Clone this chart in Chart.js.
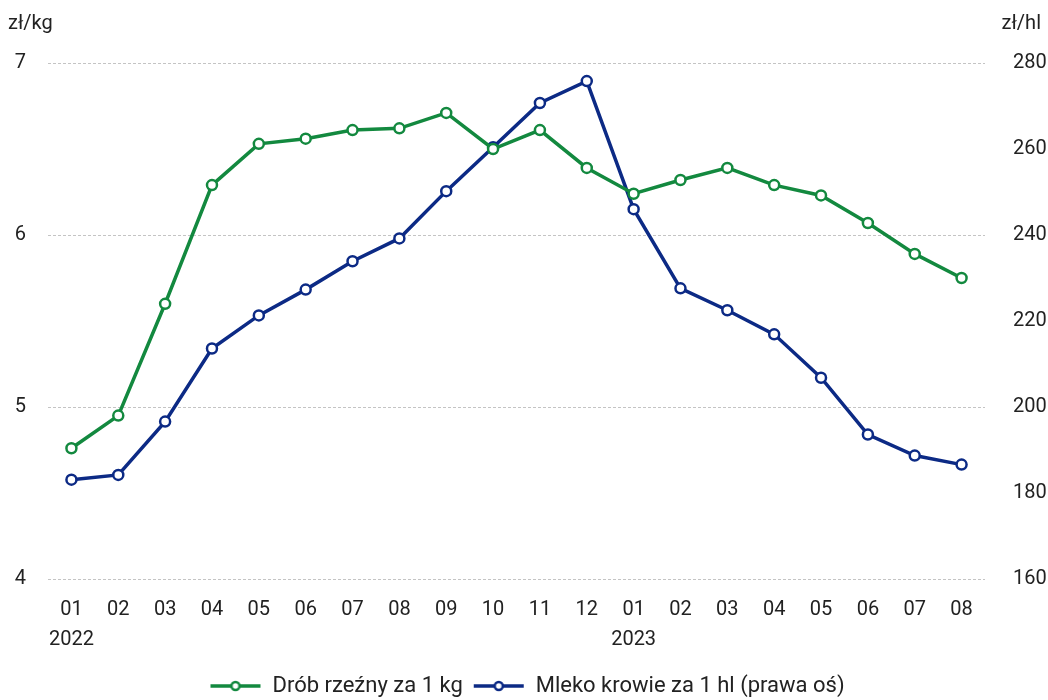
<!DOCTYPE html>
<html><head><meta charset="utf-8">
<script src="https://cdn.jsdelivr.net/npm/chart.js@4"></script>
<style>html,body{margin:0;padding:0;background:#fff}#wrap{width:1048px;height:700px}</style>
</head><body><div id="wrap"><canvas id="c" width="1048" height="700"></canvas></div>
<script>
const months = ["01","02","03","04","05","06","07","08","09","10","11","12","01","02","03","04","05","06","07","08"];
const years = {0:"2022", 12:"2023"};
const drob = [4.76,4.95,5.60,6.29,6.53,6.56,6.61,6.62,6.71,6.50,6.61,6.39,6.24,6.32,6.39,6.29,6.23,6.07,5.89,5.75];
const mleko = [183.1,184.2,196.6,213.6,221.3,227.3,233.9,239.2,250.2,260.4,270.7,275.8,246.0,227.6,222.5,216.9,206.8,193.6,188.7,186.6];
const leftTicks = [4,5,6,7];
const rightTicks = [160,180,200,220,240,260,280];
const labelLeft = "zł/kg", labelRight = "zł/hl";
const nameDrob = "Drób rzeźny za 1 kg", nameMleko = "Mleko krowie za 1 hl (prawa oś)";

const GREEN = "#13893f", BLUE = "#0c2a85";
const FONT = "Roboto";
function marker(color){
  const c = document.createElement('canvas'); c.width = 58; c.height = 14;
  const x = c.getContext('2d');
  x.strokeStyle = color; x.lineWidth = 3.5;
  x.beginPath(); x.moveTo(7,7); x.lineTo(57,7); x.stroke();
  x.beginPath(); x.arc(32,7,4,0,Math.PI*2); x.fillStyle="#fff"; x.fill(); x.lineWidth=2.5; x.stroke();
  return c;
}
const labels = months.map((m,i)=> years[i] ? [m, years[i]] : m);
const titles = {
  id:'titles',
  afterDraw(chart){
    const ctx = chart.ctx; ctx.save();
    ctx.font = "20px " + FONT; ctx.fillStyle = "#222"; ctx.textBaseline = "middle";
    ctx.textAlign = "left"; ctx.fillText(labelLeft, 8, 24);
    ctx.textAlign = "right"; ctx.fillText(labelRight, 1041, 24);
    ctx.restore();
  }
};
new Chart(document.getElementById('c'), {
  type:'line',
  data:{labels, datasets:[
    {label:nameDrob, data:drob, yAxisID:'y', borderColor:GREEN, backgroundColor:'#fff', borderWidth:3.5, pointRadius:5, pointBorderWidth:2.5, pointBackgroundColor:'#fff', pointBorderColor:GREEN, tension:0},
    {label:nameMleko, data:mleko, yAxisID:'y1', borderColor:BLUE, backgroundColor:'#fff', borderWidth:3.5, pointRadius:5, pointBorderWidth:2.5, pointBackgroundColor:'#fff', pointBorderColor:BLUE, tension:0}
  ]},
  options:{
    responsive:false, animation:false,
    layout:{padding:{top:63, bottom:-7}},
    plugins:{
      tooltip:{enabled:false},
      legend:{position:'bottom', labels:{
        font:{family:FONT, size:22}, color:'#222', usePointStyle:true, pointStyleWidth:58, boxHeight:14, padding:4,
        generateLabels(chart){
          return chart.data.datasets.map((d,i)=>({text:d.label, pointStyle:marker(d.borderColor), datasetIndex:i, fontColor:'#222', lineWidth:0, strokeStyle:'rgba(0,0,0,0)', fillStyle:'rgba(0,0,0,0)'}));
        }
      }}
    },
    scales:{
      x:{offset:true, grid:{display:false}, border:{display:false},
         afterFit(s){s.height += 8;},
         ticks:{font:{family:FONT, size:20, lineHeight:1.5}, color:'#222', padding:8, maxRotation:0, autoSkip:false}},
      y:{position:'left', min:4, max:7, afterBuildTicks(s){s.ticks = leftTicks.map(v=>({value:v}));},
         afterFit(s){s.width = 48;},
         grid:{color:'#c4c4c4', drawTicks:false, lineWidth:1}, border:{display:false, dash:[3,2]},
         ticks:{font:{family:FONT, size:20}, color:'#222', padding:22}},
      y1:{position:'right', min:160, max:280, afterBuildTicks(s){s.ticks = rightTicks.map(v=>({value:v}));},
         afterFit(s){s.width = 63;},
         grid:{display:false}, border:{display:false},
         ticks:{font:{family:FONT, size:20}, color:'#222', padding:20}}
    }
  },
  plugins:[titles]
});
</script></body></html>
